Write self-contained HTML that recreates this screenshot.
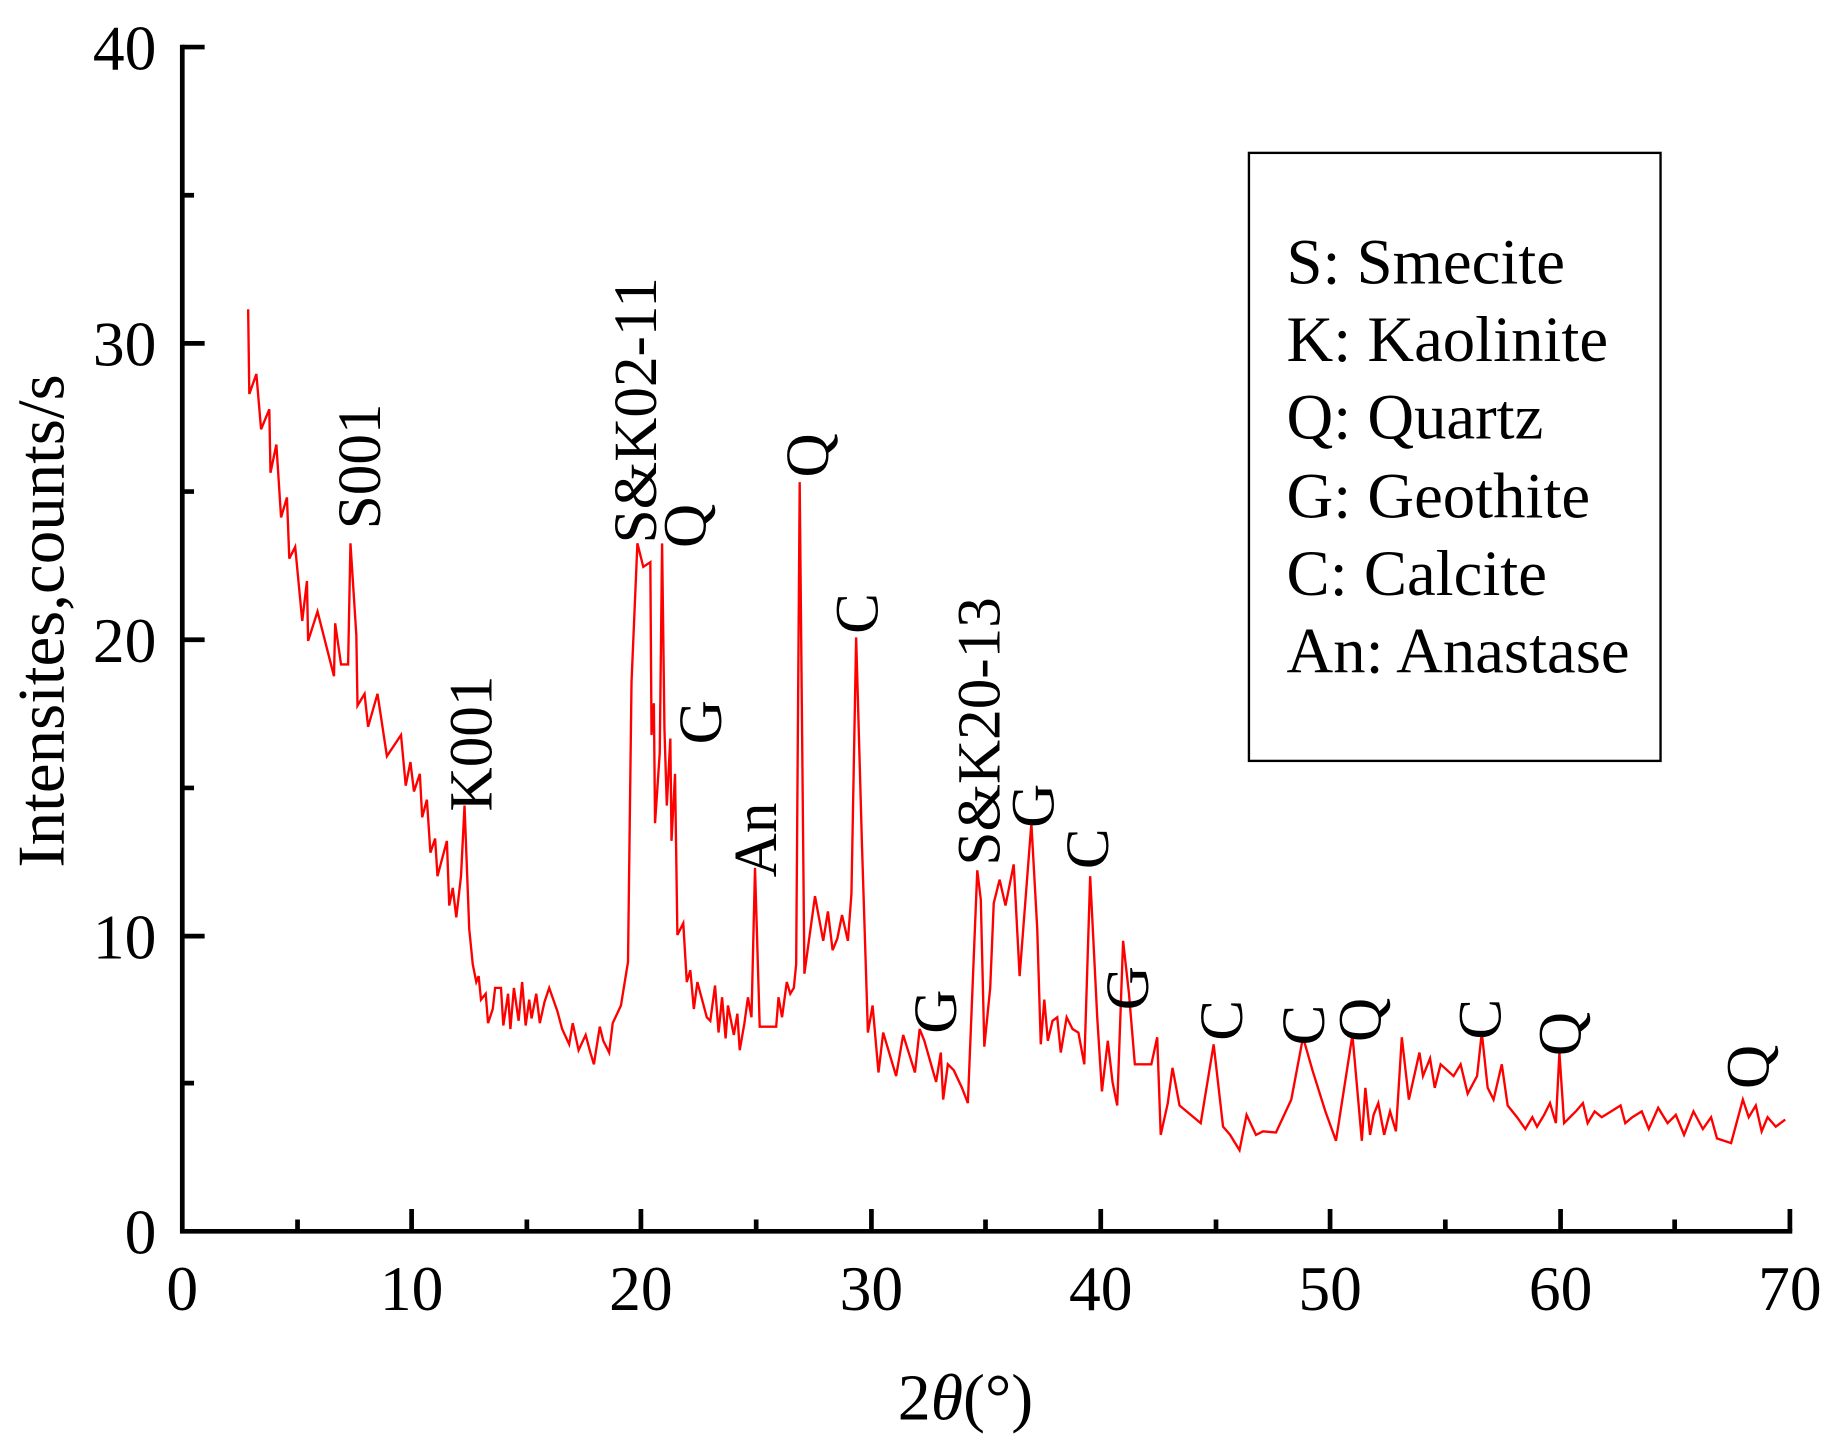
<!DOCTYPE html>
<html><head><meta charset="utf-8"><style>html,body{margin:0;padding:0;background:#fff}svg{display:block}</style></head>
<body>
<svg width="1842" height="1441" viewBox="0 0 1566.3 1225.3" preserveAspectRatio="none" xmlns="http://www.w3.org/2000/svg" font-family="'Liberation Serif', serif">
<rect width="1566.3" height="1225.3" fill="#fff"/>
<polyline fill="none" stroke="#ff0000" stroke-width="2" stroke-linejoin="miter" points="211,263 212,335 218,318 222,365 229,348 230,402 235,378 239,440 244,423 246,475 251,465 257,528 261,494 262,545 270,520 284,575 285,530 290,565 296,565 298,462 303,540 304,600 310,590 313,618 321,590 329,643 341,625 345,668 349,648 352,673 357,658 359,695 363,680 366,725 370,713 372,745 380,715 382,770 385,755 388,780 392,745 395,685 399,790 402,820 405,835 407,830 409,850 413,845 415,870 419,858 421,840 426,840 428,872 432,845 434,875 437,840 441,868 444,835 447,872 450,850 452,866 456,845 459,870 463,852 467,840 474,860 478,875 484,888 487,870 492,893 498,880 502,895 505,905 510,873 513,885 518,895 521,870 528,855 534,818 537,580 542,462 547,482 553,478 554,625 556,598 557,700 561,640 563,462 565,620 567,685 570,628 571,715 574,658 576,795 581,785 584,835 587,825 590,858 593,835 601,865 604,868 608,838 611,878 614,848 617,883 619,855 624,880 627,862 629,893 633,870 636,848 639,865 642,738 646,873 660,873 662,848 665,865 669,835 672,845 675,840 677,820 680,410 684,828 693,762 700,800 704,775 708,808 712,798 716,778 721,800 724,760 728,542 733,720 738,878 742,855 747,912 751,878 762,915 768,880 778,912 782,875 786,885 796,920 800,895 802,935 806,905 811,910 818,925 823,938 831,740 834,765 837,890 842,840 845,768 850,748 855,770 862,735 867,830 877,700 882,790 885,888 888,850 891,885 895,868 899,865 902,895 907,865 912,875 917,878 922,905 927,745 933,865 937,928 942,885 946,920 950,940 955,800 960,845 965,905 979,905 984,882 987,965 993,938 997,908 1003,940 1021,955 1032,888 1040,958 1046,965 1054,978 1060,948 1068,965 1074,962 1085,963 1098,935 1108,882 1116,910 1127,945 1136,970 1150,880 1158,970 1161,925 1165,965 1168,948 1172,938 1177,965 1182,945 1187,962 1192,882 1198,935 1207,895 1210,915 1216,900 1220,925 1225,905 1236,915 1242,905 1248,930 1256,915 1260,878 1265,925 1270,935 1277,905 1282,940 1290,950 1297,960 1303,950 1307,958 1313,948 1318,938 1323,955 1326,895 1330,955 1340,945 1346,938 1350,955 1356,945 1362,950 1370,945 1378,940 1382,955 1388,950 1396,945 1402,960 1410,942 1418,955 1425,948 1432,965 1440,945 1448,960 1455,950 1460,968 1472,972 1482,935 1487,950 1493,940 1498,962 1503,950 1510,958 1518,952"/>
<g stroke="#000" stroke-width="4" fill="none">
<polyline points="155,38 155,1047 1524,1047"/>
<path d="M155,40h19M155,166h10M155,292h19M155,418h10M155,544h19M155,670h10M155,796h19M155,921h10
M253,1047v-10M350,1047v-19M448,1047v-10M545,1047v-19M643,1047v-10M741,1047v-19M838,1047v-10M936,1047v-19M1034,1047v-10M1131,1047v-19M1229,1047v-10M1327,1047v-19M1424,1047v-10M1522,1047v-19"/>
</g>
<g font-size="54" fill="#000" text-anchor="end">
<text x="133" y="59">40</text><text x="133" y="311">30</text><text x="133" y="563">20</text><text x="133" y="815">10</text><text x="133" y="1066">0</text>
</g>
<g font-size="54" fill="#000" text-anchor="middle">
<text x="155" y="1114">0</text><text x="350" y="1114">10</text><text x="545" y="1114">20</text><text x="741" y="1114">30</text><text x="936" y="1114">40</text><text x="1131" y="1114">50</text><text x="1327" y="1114">60</text><text x="1522" y="1114">70</text>
</g>
<text transform="translate(54,528) rotate(-90)" font-size="57" text-anchor="middle">Intensites,counts/s</text>
<text x="821" y="1207" font-size="56" text-anchor="middle">2<tspan font-style="italic">θ</tspan>(°)</text>
<rect x="1062" y="130" width="350" height="517" fill="none" stroke="#000" stroke-width="2"/>
<g font-size="55">
<text x="1094" y="241">S: Smecite</text>
<text x="1094" y="307">K: Kaolinite</text>
<text x="1094" y="373">Q: Quartz</text>
<text x="1094" y="440">G: Geothite</text>
<text x="1094" y="506">C: Calcite</text>
<text x="1094" y="572">An: Anastase</text>
</g>
<g font-size="52">
<text transform="translate(323,450) rotate(-90)">S001</text>
<text transform="translate(418,690) rotate(-90)">K001</text>
<text transform="translate(558,462) rotate(-90)">S&amp;K02-11</text>
<text transform="translate(600,466) rotate(-90)">Q</text>
<text transform="translate(613,633) rotate(-90)">G</text>
<text transform="translate(660,746) rotate(-90)">An</text>
<text transform="translate(704,406) rotate(-90)">Q</text>
<text transform="translate(746,539) rotate(-90)">C</text>
<text transform="translate(813,879) rotate(-90)">G</text>
<text transform="translate(850,736) rotate(-90)">S&amp;K20-13</text>
<text transform="translate(896,704) rotate(-90)">G</text>
<text transform="translate(942,739) rotate(-90)">C</text>
<text transform="translate(976,859) rotate(-90)">G</text>
<text transform="translate(1056,885) rotate(-90)">C</text>
<text transform="translate(1126,889) rotate(-90)">C</text>
<text transform="translate(1174,886) rotate(-90)">Q</text>
<text transform="translate(1276,884) rotate(-90)">C</text>
<text transform="translate(1344,898) rotate(-90)">Q</text>
<text transform="translate(1504,926) rotate(-90)">Q</text>
</g>
</svg>
</body></html>
